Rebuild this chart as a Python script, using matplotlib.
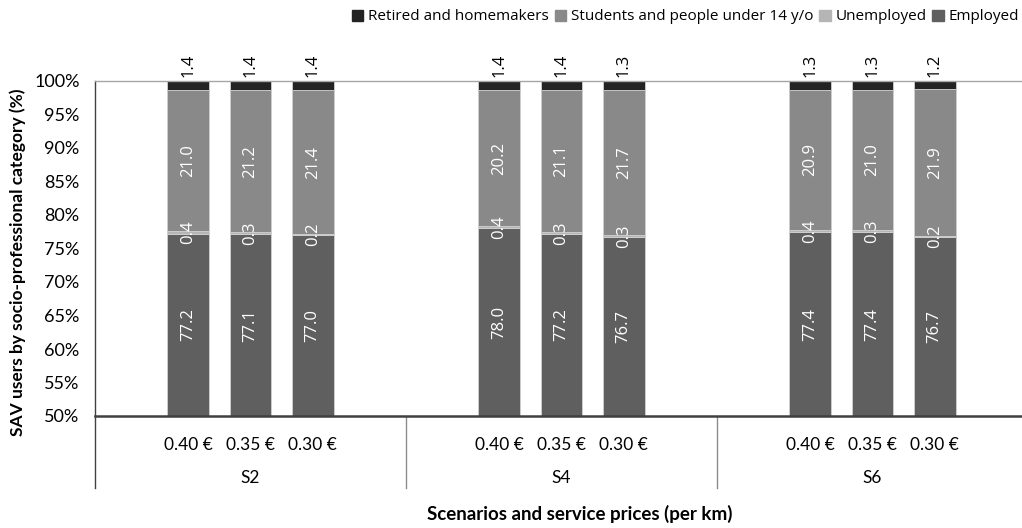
import matplotlib
matplotlib.use("Agg")
import matplotlib.pyplot as plt
import matplotlib.transforms as mtransforms
from matplotlib.patches import Patch
import numpy as np

scenarios = ["S2", "S4", "S6"]
prices = ["0.40 €", "0.35 €", "0.30 €"]
employed = [77.2, 77.1, 77.0, 78.0, 77.2, 76.7, 77.4, 77.4, 76.7]
unemployed = [0.4, 0.3, 0.2, 0.4, 0.3, 0.3, 0.4, 0.3, 0.2]
students = [21.0, 21.2, 21.4, 20.2, 21.1, 21.7, 20.9, 21.0, 21.9]
retired = [1.4, 1.4, 1.4, 1.4, 1.4, 1.3, 1.3, 1.3, 1.2]
yticks = [50, 55, 60, 65, 70, 75, 80, 85, 90, 95, 100]

c_emp, c_unemp, c_stud, c_ret = "#5f5f5f", "#b5b5b5", "#898989", "#232323"

W, H = 1022, 528
fig = plt.figure(figsize=(W / 100, H / 100), dpi=100)
ax = fig.add_axes([95 / W, (H - 416) / H, (1028 - 95) / W, (416 - 81) / H])

xs = []
for g in range(len(scenarios)):
    for j in range(len(prices)):
        xs.append(5 * g + 1.5 + j)
xs = np.array(xs)
bw = 0.675
ymin, ymax = 50, 100

emp = np.array(employed); une = np.array(unemployed)
stu = np.array(students); ret = np.array(retired)
ec = "#d0d0d0"
ax.bar(xs, emp, bw, color=c_emp, edgecolor=ec, linewidth=0.6, zorder=2)
ax.bar(xs, une, bw, bottom=emp, color=c_unemp, edgecolor=ec, linewidth=0.6, zorder=2)
ax.bar(xs, stu, bw, bottom=emp + une, color=c_stud, edgecolor=ec, linewidth=0.6, zorder=2)
ax.bar(xs, ret, bw, bottom=emp + une + stu, color=c_ret, edgecolor=ec, linewidth=0.6, zorder=2)

lab_font = "Open Sans"
lfs = 12
for i, x in enumerate(xs):
    ax.text(x, (ymin + emp[i]) / 2, f"{emp[i]:.1f}", rotation=90, ha="center", va="center",
            color="white", fontsize=lfs, family=lab_font, zorder=3)
    ax.text(x, emp[i] + une[i] / 2, f"{une[i]:.1f}", rotation=90, ha="center", va="center",
            color="white", fontsize=lfs, family=lab_font, zorder=3)
    ax.text(x, emp[i] + une[i] + stu[i] / 2, f"{stu[i]:.1f}", rotation=90, ha="center", va="center",
            color="white", fontsize=lfs, family=lab_font, zorder=3)
    ax.text(x, 100.6, f"{ret[i]:.1f}", rotation=90, ha="center", va="bottom",
            color="black", fontsize=lfs, family=lab_font, zorder=3, clip_on=False)

ax.set_ylim(ymin, ymax)
ax.set_xlim(0, 15)
ax.set_yticks(yticks)
ax.set_yticklabels([f"{v}%" for v in yticks], family="Lato", fontsize=13)
ax.tick_params(axis="y", length=0, pad=11)
ax.set_xticks([])
ax.spines["right"].set_visible(False)
ax.spines["top"].set_color("#a6a6a6")
ax.spines["top"].set_linewidth(1.0)
ax.spines["left"].set_color("#404040")
ax.spines["left"].set_linewidth(1.0)
ax.spines["bottom"].set_color("#404040")
ax.spines["bottom"].set_linewidth(1.8)

trans = mtransforms.blended_transform_factory(ax.transData, ax.transAxes)
ah = 416 - 81
y_price = -(445 - 416) / ah
y_scen = -(478 - 416) / ah
y_sep = -(488 - 416) / ah
for i, x in enumerate(xs):
    ax.text(x, y_price, prices[i % 3], transform=trans, ha="center", va="center",
            family="Lato", fontsize=12.5, clip_on=False)
for g, s in enumerate(scenarios):
    ax.text(5 * g + 2.5, y_scen, s, transform=trans, ha="center", va="center",
            family="Lato", fontsize=12.5, clip_on=False)
for k in range(4):
    col = "#404040" if k == 0 else "#8c8c8c"
    ax.plot([5 * k, 5 * k], [0, y_sep], transform=trans, color=col, lw=1.0, clip_on=False)

fig.text(580 / W, 1 - 514 / H, "Scenarios and service prices (per km)", ha="center", va="center",
         family="Lato", fontweight="bold", fontsize=13.5)
fig.text(18 / W, 1 - 262 / H, "SAV users by socio-professional category (%)", ha="center", va="center",
         rotation=90, family="Lato", fontweight="bold", fontsize=12.5)

handles = [Patch(color=c_ret), Patch(color=c_stud), Patch(color=c_unemp), Patch(color=c_emp)]
labels = ["Retired and homemakers", "Students and people under 14 y/o", "Unemployed", "Employed"]
fig.legend(handles, labels, loc="center right", bbox_to_anchor=(1019 / W, 1 - 17 / H), ncol=4,
           frameon=False, prop={"family": "Open Sans", "size": 11}, handlelength=0.75,
           handleheight=0.75, handletextpad=0.3, columnspacing=0.4, borderpad=0, borderaxespad=0)

fig.savefig("out.png", dpi=100)
